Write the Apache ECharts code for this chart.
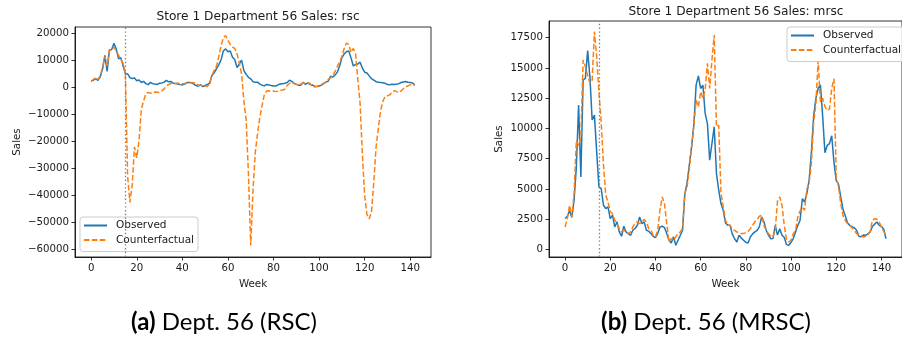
<!DOCTYPE html>
<html><head><meta charset="utf-8">
<script src="https://cdn.jsdelivr.net/npm/echarts@6/dist/echarts.min.js"></script>
<style>html,body{margin:0;padding:0;background:#fff}#c{width:902px;height:339px}</style>
</head><body><div id="c"></div>
<script>
// Observed weekly sales, Store 1 Dept 56 (weeks 0..142)
const observed = [2560,2750,3200,2650,4080,6830,11930,6000,14000,14130,16420,14270,10700,11100,8070,5180,5040,3660,3390,3530,
2560,2840,1870,2290,1460,1100,1930,1460,1320,1180,1600,1740,2010,2700,2150,2290,1600,1520,1320,1100,
990,1320,1870,1930,1820,1320,770,550,1050,360,770,1180,1600,4600,5500,7000,8500,10300,13600,14330,
13300,13580,11240,10400,7380,8760,10140,6280,4900,3800,3250,2200,2010,2000,1300,900,630,1180,950,770,
600,550,1040,1300,1460,1590,1900,2700,2300,1600,1200,900,910,2000,1200,1730,1180,1000,410,360,
600,910,1460,2000,2420,4200,3930,4620,5720,8000,11000,12500,13300,13600,11000,8000,8600,8750,9400,7200,
5700,5400,4350,3300,2800,2200,2000,1900,1800,1600,1100,1050,1200,1180,1300,1460,1900,2100,2280,2000,
1900,1700,900];
// Counterfactual (RSC)
const rscCounterfactual = [2200,3000,3800,3000,4500,7500,11500,8000,13800,14000,15000,13500,12000,10500,9000,5000,-33000,-42500,-36000,-22000,
-26000,-19500,-8000,-5000,-2200,-1800,-2000,-2100,-1600,-1700,-1800,-1200,-500,600,1100,1500,1600,1500,1700,1300,
1400,1500,1700,1600,1900,1800,1400,1000,900,700,600,400,1500,4500,6500,8000,11500,15500,18500,19300,
17500,16000,15000,14500,12500,9000,5000,-5000,-12000,-32000,-58500,-38000,-24000,-17000,-11000,-6500,-2500,-1300,-1200,-1400,
-1300,-1500,-1300,-1000,-900,-600,800,1500,2000,1500,1200,1000,1300,1800,1500,1800,1500,600,300,400,
800,1200,1600,2200,3000,3600,4500,6000,7800,9500,11500,14500,16500,16000,13000,14500,12500,3000,-6000,-25000,
-40000,-47000,-48600,-46000,-35000,-22000,-15000,-8500,-5000,-3300,-3000,-2700,-1800,-1100,-1500,-1900,-1200,-400,200,700,
1000,1100,1000];
// Counterfactual (MRSC)
const mrscCounterfactual = [1870,2560,3660,2700,4630,9000,8600,9300,15650,15100,14400,13720,14000,17990,15920,13000,10500,7000,4500,3940,
3110,2980,2420,2150,1740,1460,1600,1460,1320,1460,1870,2200,2290,2150,2290,2480,2290,1740,1600,1180,
1050,1600,3250,4350,3800,2150,630,910,770,1050,1320,1460,1740,4630,5180,6700,8480,10270,12340,11790,
13030,12480,13170,15370,13300,15650,17710,10140,10270,4630,3530,2420,2010,2010,1700,1590,1460,1400,1320,1320,
1400,1500,1730,2010,2300,2500,2750,2830,2000,1600,1320,1100,1040,1590,4000,4350,3660,2000,800,630,
770,1320,1590,2700,3200,3500,3250,5030,5500,7100,10500,12000,15600,12200,12500,11800,11500,11600,13300,14100,
6000,5200,3800,2800,2400,2150,2000,1800,1600,1320,1200,1150,1040,1100,1250,1460,2400,2550,2500,2280,
1870,1500,1180];
const treatmentWeek = 15;
const xTicks = [0,20,40,60,80,100,120,140];
const yTicksRsc = [-60000,-50000,-40000,-30000,-20000,-10000,0,10000,20000];
const yTicksMrsc = [0,2500,5000,7500,10000,12500,15000,17500];
const titles = ['Store 1 Department 56 Sales: rsc','Store 1 Department 56 Sales: mrsc'];
const captions = ['Dept. 56 (RSC)','Dept. 56 (MRSC)'];

const toPairs = arr => arr.map((v, i) => [i, v]);
const FONT = 'DejaVu Sans';
const TXT = '#1a1a1a';
const fmtNum = v => (v < 0 ? '\u2212' + Math.abs(v) : String(v));

function xAxisCfg(gi) {
  return {
    type: 'value', gridIndex: gi, min: -7.1, max: 149.1,
    name: 'Week', nameLocation: 'middle', nameGap: 22,
    nameTextStyle: {fontFamily: FONT, fontSize: 10.3, color: TXT},
    axisLine: {show: true, onZero: false, lineStyle: {color: '#000', width: 0.8}},
    axisTick: {show: true, length: 3.5, lineStyle: {color: '#000', width: 0.8}, customValues: xTicks},
    axisLabel: {fontFamily: FONT, fontSize: 10.2, color: TXT, margin: 6, customValues: xTicks, formatter: fmtNum},
    splitLine: {show: false}
  };
}
function yAxisCfg(gi, min, max, ticks, gap) {
  return {
    type: 'value', gridIndex: gi, min: min, max: max,
    name: 'Sales', nameLocation: 'middle', nameGap: gap, nameRotate: 90,
    nameTextStyle: {fontFamily: FONT, fontSize: 10.3, color: TXT},
    axisLine: {show: true, onZero: false, lineStyle: {color: '#000', width: 0.8}},
    axisTick: {show: true, length: 3.5, lineStyle: {color: '#000', width: 0.8}, customValues: ticks},
    axisLabel: {fontFamily: FONT, fontSize: 10.2, color: TXT, margin: 6, customValues: ticks, formatter: fmtNum},
    splitLine: {show: false}
  };
}
const vline = {
  silent: true, symbol: ['none','none'], animation: false,
  label: {show: false},
  lineStyle: {color: '#7f7f7f', type: [1.4, 2.4], width: 1.3},
  data: [{xAxis: treatmentWeek}]
};
function legendCfg(left, top) {
  return {
    orient: 'vertical', left: left, top: top,
    data: ['Observed','Counterfactual'],
    itemWidth: 23, itemHeight: 12, itemGap: 3.5,
    padding: [3, 4, 6, 3],
    borderColor: '#cccccc', borderWidth: 1, borderRadius: 3,
    backgroundColor: 'rgba(255,255,255,0.8)',
    itemStyle: {opacity: 0, borderWidth: 0},
    textStyle: {fontFamily: FONT, fontSize: 10.5, color: TXT, padding: [0,0,0,4]},
    selectedMode: false
  };
}
function seriesPair(gi, cf) {
  return [
    {name: 'Observed', type: 'line', xAxisIndex: gi, yAxisIndex: gi, data: toPairs(observed),
     symbol: 'none', lineStyle: {color: '#1f77b4', width: 1.5}, itemStyle: {color: '#1f77b4'}, z: 2},
    {name: 'Counterfactual', type: 'line', xAxisIndex: gi, yAxisIndex: gi, data: toPairs(cf),
     symbol: 'none', lineStyle: {color: '#ff7f0e', width: 1.5, type: [5.5, 2.4]}, itemStyle: {color: '#ff7f0e'}, z: 3,
     markLine: vline}
  ];
}

const capStyle = {fontFamily: 'Lato', fontSize: 24, fontWeight: 'normal', color: '#000',
  rich: {b: {fontFamily: 'Lato', fontSize: 24, fontWeight: 'bold', color: '#000'}}};

const chart = echarts.init(document.getElementById('c'), null, {renderer: 'canvas'});
chart.setOption({
  animation: false,
  backgroundColor: '#fff',
  title: [
    {text: titles[0], left: 253, top: 6, textAlign: 'center', textStyle: {fontFamily: FONT, fontSize: 12.2, fontWeight: 'normal', color: TXT}},
    {text: titles[1], left: 731, top: 1, textAlign: 'center', textStyle: {fontFamily: FONT, fontSize: 12.2, fontWeight: 'normal', color: TXT}},
    {text: '{b|(a)} ' + captions[0], left: 219, top: 305, textAlign: 'center', textStyle: capStyle},
    {text: '{b|(b)} ' + captions[1], left: 701, top: 305, textAlign: 'center', textStyle: capStyle}
  ],
  legend: [legendCfg(80, 217), legendCfg(787, 27)],
  grid: [
    {left: 75, top: 27, width: 356, height: 230, show: true, borderColor: '#000', borderWidth: 0.8, containLabel: false},
    {left: 549, top: 21, width: 364, height: 236, show: true, borderColor: '#000', borderWidth: 0.8, containLabel: false}
  ],
  xAxis: [xAxisCfg(0), xAxisCfg(1)],
  yAxis: [yAxisCfg(0, -62740, 22440, yTicksRsc, 53), yAxisCfg(1, -611, 18870, yTicksMrsc, 45)],
  series: [].concat(seriesPair(0, rscCounterfactual), seriesPair(1, mrscCounterfactual))
});
</script>
</body></html>
